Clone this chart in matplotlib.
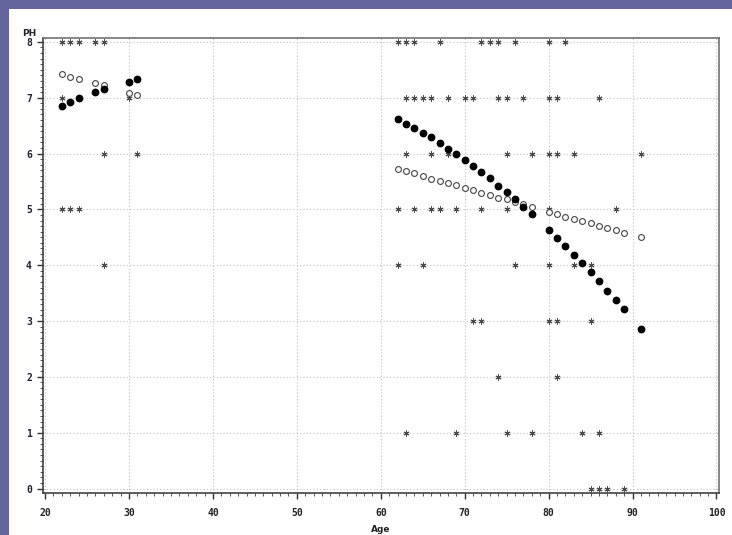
import matplotlib
matplotlib.use("Agg")
import matplotlib.pyplot as plt
from matplotlib.patches import Rectangle
from matplotlib.ticker import MultipleLocator

# ---- data -------------------------------------------------------------
fit_age = [22, 23, 24, 26, 27, 30, 31,
           62, 63, 64, 65, 66, 67, 68, 69, 70, 71, 72, 73, 74, 75, 76, 77, 78,
           80, 81, 82, 83, 84, 85, 86, 87, 88, 89, 91]
fit_filled = [6.86, 6.93, 6.99, 7.11, 7.16, 7.28, 7.33,
              6.62, 6.53, 6.46, 6.37, 6.29, 6.19, 6.08, 5.99, 5.88, 5.78, 5.67,
              5.56, 5.42, 5.31, 5.18, 5.04, 4.91,
              4.63, 4.49, 4.35, 4.18, 4.04, 3.88, 3.71, 3.54, 3.38, 3.21, 2.85]
fit_open = [7.43, 7.38, 7.34, 7.26, 7.23, 7.09, 7.05,
            5.72, 5.68, 5.65, 5.60, 5.55, 5.51, 5.47, 5.43, 5.38, 5.34, 5.30,
            5.26, 5.21, 5.18, 5.14, 5.10, 5.05,
            4.96, 4.91, 4.87, 4.82, 4.79, 4.76, 4.71, 4.67, 4.63, 4.58, 4.50]

obs_ph8 = [22, 23, 24, 26, 27, 62, 63, 64, 67, 72, 73, 74, 76, 80, 82]
obs_ph7 = [22, 24, 30, 63, 64, 65, 66, 68, 70, 71, 74, 75, 77, 80, 81, 86]
obs_ph6 = [27, 31, 63, 66, 68, 75, 78, 80, 81, 83, 91]
obs_ph5 = [22, 23, 24, 62, 64, 66, 67, 69, 72, 75, 80, 88]
obs_ph4 = [27, 62, 65, 76, 80, 83, 85]
obs_ph3 = [71, 72, 80, 81, 85]
obs_ph2 = [74, 81]
obs_ph1 = [63, 69, 75, 78, 84, 86]
obs_ph0 = [85, 86, 87, 89]
obs_levels = [8, 7, 6, 5, 4, 3, 2, 1, 0]
obs_groups = [obs_ph8, obs_ph7, obs_ph6, obs_ph5, obs_ph4, obs_ph3, obs_ph2,
              obs_ph1, obs_ph0]

x_ticks = [20, 30, 40, 50, 60, 70, 80, 90, 100]
y_ticks = [0, 1, 2, 3, 4, 5, 6, 7, 8]

# ---- figure -----------------------------------------------------------
W, H = 732, 535
fig = plt.figure(figsize=(W / 100, H / 100), dpi=100)
fig.patch.set_facecolor("white")

purple = "#65659d"
fig.patches.append(Rectangle((0, 1 - 9 / H), 1, 9 / H, transform=fig.transFigure,
                             facecolor=purple, edgecolor="none", zorder=0))
fig.patches.append(Rectangle((0, 0), 9 / W, 1, transform=fig.transFigure,
                             facecolor=purple, edgecolor="none", zorder=0))

left, right, top, bottom = 43, 719, 38, 493
ax = fig.add_axes([left / W, 1 - bottom / H, (right - left) / W, (bottom - top) / H])

ax.set_xlim(19.75, 100.3)
ax.set_ylim(-0.08, 8.07)

ax.grid(True, which="major", color="#c0c0c0", linestyle=(0, (1, 2)), linewidth=0.8)
ax.set_axisbelow(True)

star_marker = (6, 2, 0)
for lvl, ages in zip(obs_levels, obs_groups):
    ax.plot(ages, [lvl] * len(ages), linestyle="none", marker=star_marker,
            markersize=4.3, markeredgewidth=0.7, color="#4a4a4a", zorder=3)

ax.plot(fit_age, fit_open, linestyle="none", marker="o", markersize=4.2,
        markerfacecolor="white", markeredgecolor="#444444", markeredgewidth=0.8,
        zorder=4)
ax.plot(fit_age, fit_filled, linestyle="none", marker="o", markersize=4.6,
        markerfacecolor="black", markeredgecolor="black", zorder=5)

ax.set_xticks(x_ticks)
ax.set_yticks(y_ticks)
ax.xaxis.set_minor_locator(MultipleLocator(1))
ax.yaxis.set_minor_locator(MultipleLocator(0.1))
ax.tick_params(axis="both", which="major", direction="out", length=4, width=1,
               color="#333333")
ax.tick_params(axis="both", which="minor", direction="out", length=2.5,
               width=0.7, color="#555555")
ax.tick_params(axis="x", which="major", pad=7)
ax.tick_params(axis="y", which="major", pad=4)
for lab in ax.get_xticklabels() + ax.get_yticklabels():
    lab.set_fontfamily("DejaVu Sans Mono")
    lab.set_fontsize(7)
    lab.set_fontweight("bold")
    lab.set_color("#222222")

for side in ["left", "bottom"]:
    ax.spines[side].set_color("#333333")
    ax.spines[side].set_linewidth(1.1)
for side in ["top", "right"]:
    ax.spines[side].set_color("#666666")
    ax.spines[side].set_linewidth(1.1)

fig.text(29 / W, 1 - 33 / H, "PH", ha="center", va="center", fontsize=6.5,
         fontweight="bold", family="DejaVu Sans", color="#222222")
fig.text(381 / W, 1 - 530 / H, "Age", ha="center", va="center", fontsize=6.5,
         fontweight="bold", family="DejaVu Sans", color="#222222")

fig.savefig("out.png", dpi=100, facecolor="white")
